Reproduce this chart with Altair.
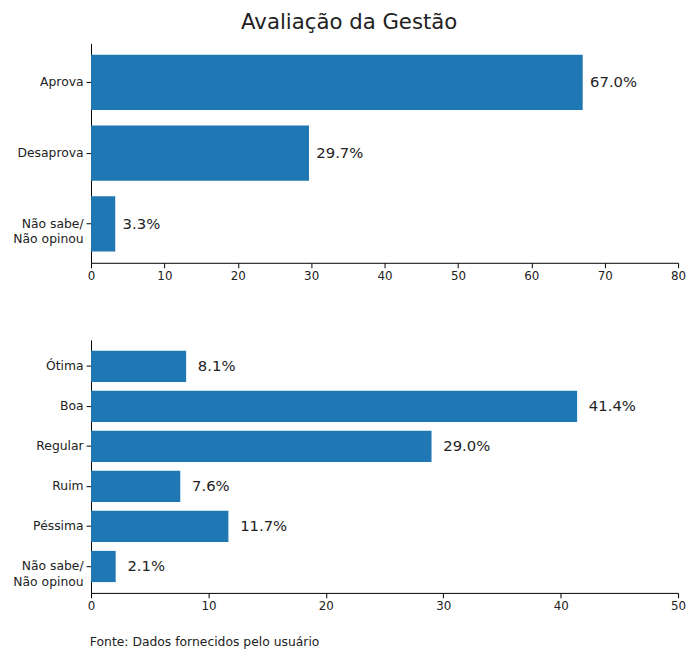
import altair as alt
import pandas as pd

cat_top = ["Aprova", "Desaprova", "Não sabe/\nNão opinou"]
val_top = [67.0, 29.7, 3.3]

cat_bot = ["Ótima", "Boa", "Regular", "Ruim", "Péssima", "Não sabe/\nNão opinou"]
val_bot = [8.1, 41.4, 29.0, 7.6, 11.7, 2.1]

ticks_top = [0, 10, 20, 30, 40, 50, 60, 70, 80]
ticks_bot = [0, 10, 20, 30, 40, 50]

FONT = "DejaVu Sans"
BLUE = "#1f77b4"
TXT = "#222222"


def panel(cats, vals, xmax, ticks, height, pad_outer, title=None):
    df = pd.DataFrame({"cat": cats, "v": vals})
    y = alt.Y(
        "cat:N",
        sort=cats,
        title=None,
        scale=alt.Scale(paddingInner=0.22, paddingOuter=pad_outer),
        axis=alt.Axis(labelExpr="split(datum.label, '\\n')", labelLineHeight=15.5,
                      labelFontSize=12.5),
    )
    base = alt.Chart(df).encode(y=y)
    bars = base.mark_bar(color=BLUE).encode(
        x=alt.X(
            "v:Q",
            title=None,
            scale=alt.Scale(domain=[0, xmax], nice=False, zero=True),
            axis=alt.Axis(values=ticks, format="d"),
        )
    )
    labels = (
        base.transform_calculate(lx="datum.v + 1",
                                 txt="format(datum.v, '.1f') + '%'")
        .mark_text(align="left", baseline="middle", font=FONT, fontSize=15, color=TXT)
        .encode(x=alt.X("lx:Q"), text="txt:N")
    )
    props = dict(width=594, height=height)
    if title is not None:
        props["title"] = title
    return alt.layer(bars, labels).properties(**props)


top = panel(cat_top, val_top, 80, ticks_top, 222, 0.16)
bot = panel(
    cat_bot, val_bot, 50, ticks_bot, 256, 0.27,
    title=alt.TitleParams(
        "Fonte: Dados fornecidos pelo usuário",
        orient="bottom", anchor="start", fontSize=12.5, fontWeight="normal",
        font=FONT, color=TXT, offset=25, dx=78,
    ),
)

chart = (
    alt.vconcat(top, bot, spacing=59)
    .properties(
        title=alt.TitleParams(
            "Avaliação da Gestão", fontSize=21.5, fontWeight="normal", font=FONT,
            color=TXT, anchor="middle", offset=10,
        ),
        padding={"left": 4, "top": 0, "right": 0, "bottom": 0},
    )
    .configure_view(stroke=None)
    .configure_axis(
        labelFont=FONT, labelFontSize=12, labelColor=TXT,
        domainColor="#000000", tickColor="#000000", tickSize=5,
        grid=False, labelPadding=3,
    )
    .configure_axisX(labelFlush=False)
)

chart.save("out.html", embed_options={"renderer": "svg", "actions": False})
